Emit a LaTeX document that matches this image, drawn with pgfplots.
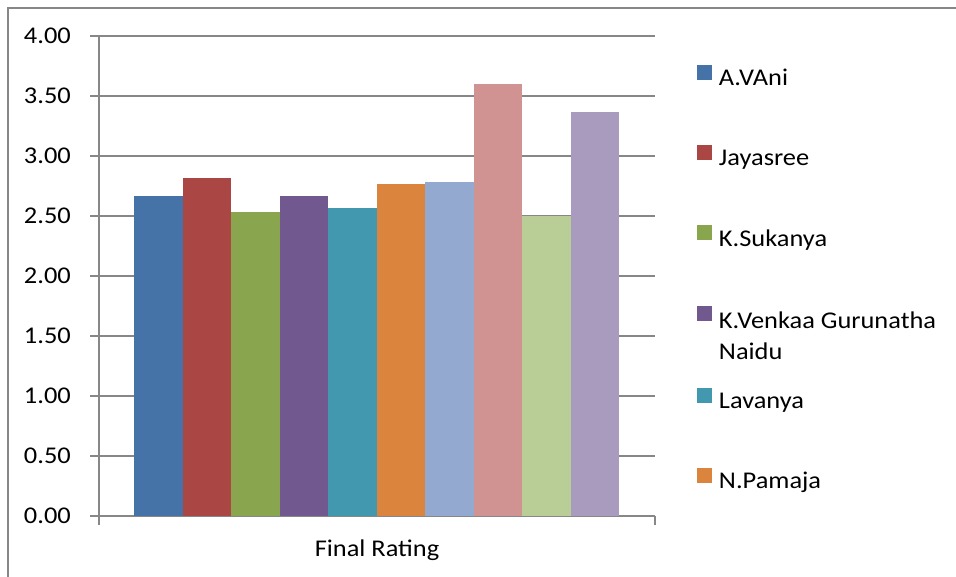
\documentclass[border=0pt]{standalone}
\usepackage{fontspec}
\setmainfont{Carlito}[FakeStretch=1.1]
\usepackage{pgfplots}
\pgfplotsset{compat=1.18}

\definecolor{c1}{HTML}{4572A7}
\definecolor{c2}{HTML}{AA4643}
\definecolor{c3}{HTML}{89A54E}
\definecolor{c4}{HTML}{71588F}
\definecolor{c5}{HTML}{4198AF}
\definecolor{c6}{HTML}{DB843D}
\definecolor{c7}{HTML}{93A9CF}
\definecolor{c8}{HTML}{D19392}
\definecolor{c9}{HTML}{B9CD96}
\definecolor{c10}{HTML}{A99BBD}
\definecolor{linegray}{HTML}{878787}

\pgfplotsset{
  mybar/.style={ybar, bar shift=0pt, bar width=1, fill=#1, draw=none,
    legend image code/.code={\fill[##1] (0pt,-0.5pt) rectangle (15pt,14.5pt); \path (22pt,0pt);}},
}

\begin{document}
\fontsize{24}{29}\selectfont
\begin{tikzpicture}[x=1pt,y=1pt]
\path[use as bounding box] (0,0) rectangle (956,-577);
\draw[linegray, line width=1.5pt] (8,-577) -- (8,-8) -- (956,-8);
\begin{axis}[
  at={(99pt,-516pt)}, anchor=south west,
  scale only axis, width=556pt, height=480pt,
  xmin=-1.222, xmax=10.242, ymin=0, ymax=4,
  axis x line*=bottom, axis y line*=left,
  axis line style={linegray, line width=1.5pt},
  ytick={0,0.5,1,1.5,2,2.5,3,3.5,4},
  yticklabel style={xshift=-11pt, /pgf/number format/.cd, fixed, fixed zerofill, precision=2},
  /pgf/number format/assume math mode=true,
  ymajorgrids, major grid style={linegray, line width=1.5pt},
  tick align=outside, major tick length=9pt,
  tick style={linegray, line width=1.5pt},
  xtick=\empty,
  extra x ticks={-1.222,10.242}, extra x tick labels={,},
  extra x tick style={grid=none},
  xlabel={Final Rating},
  xlabel style={at={(axis description cs:0.5,0)}, anchor=center, yshift=-34pt},
  legend cell align=left,
  legend style={at={(1.0755,0.9396)}, anchor=north west, draw=none, fill=none,
    inner sep=0pt, outer sep=0pt, row sep=55.8pt, nodes={inner sep=0pt}},
]
\addplot[mybar=c1] coordinates {(0,2.67)};
\addplot[mybar=c2] coordinates {(1,2.82)};
\addplot[mybar=c3] coordinates {(2,2.53)};
\addplot[mybar=c4] coordinates {(3,2.67)};
\addplot[mybar=c5] coordinates {(4,2.57)};
\addplot[mybar=c6] coordinates {(5,2.77)};
\addplot[mybar=c7] coordinates {(6,2.78)};
\addplot[mybar=c8] coordinates {(7,3.60)};
\addplot[mybar=c9] coordinates {(8,2.50)};
\addplot[mybar=c10] coordinates {(9,3.37)};
\legend{A.VAni, Jayasree, K.Sukanya,
  {\begin{tabular}[t]{@{}l@{}}K.Venkaa Gurunatha\\[2pt]Naidu\end{tabular}},
  Lavanya, N.Pamaja}
\end{axis}
\end{tikzpicture}
\end{document}
